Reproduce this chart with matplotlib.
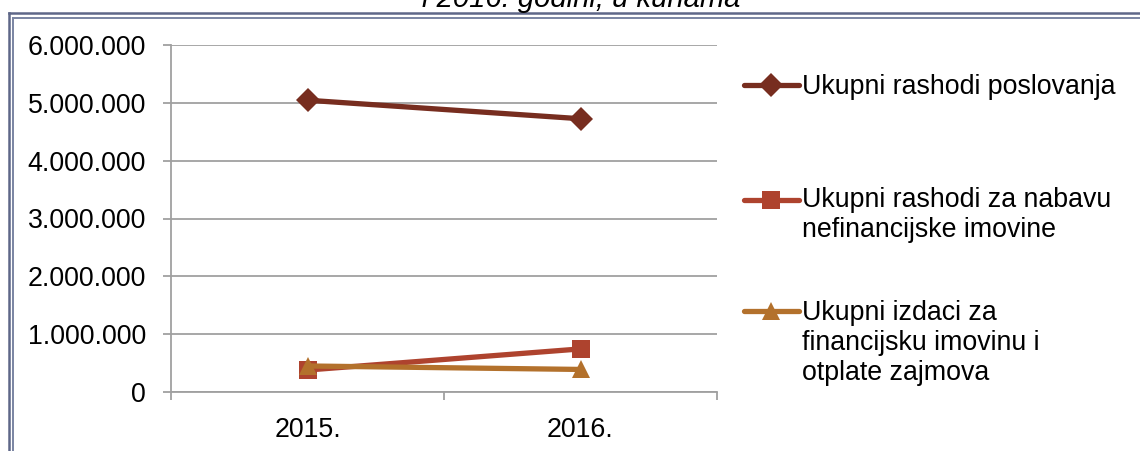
import matplotlib.pyplot as plt
from matplotlib.lines import Line2D
from matplotlib.legend_handler import HandlerLine2D
from matplotlib.ticker import FixedLocator, FuncFormatter

plt.rcParams['font.family'] = ['Liberation Sans', 'DejaVu Sans']

years = ['2015.', '2016.']
rashodi_poslovanja = [5045000, 4725000]
rashodi_nefin_imovina = [380000, 745000]
izdaci_fin_imovina = [450000, 390000]

labels = [
    'Ukupni rashodi poslovanja',
    'Ukupni rashodi za nabavu\nnefinancijske imovine',
    'Ukupni izdaci za\nfinancijsku imovinu i\notplate zajmova',
]
colors = ['#772d1f', '#ae432e', '#b3712c']
markers = ['D', 's', '^']
y_ticks = [0, 1000000, 2000000, 3000000, 4000000, 5000000, 6000000]

FS = 19.3
W, H = 1140, 451


class FirstLineHandler(HandlerLine2D):
    # keep the legend line level with the first row of a wrapped label
    def __init__(self, nlines, **kw):
        super().__init__(**kw)
        self.nlines = nlines

    def create_artists(self, legend, orig_handle, xdescent, ydescent,
                       width, height, fontsize, trans):
        arts = super().create_artists(legend, orig_handle, xdescent, ydescent,
                                      width, height, fontsize, trans)
        shift = (self.nlines - 1) / 2 * fontsize * 1.2
        for a in arts:
            a.set_ydata([y + shift for y in a.get_ydata()])
        return arts


fig = plt.figure(figsize=(W / 100, H / 100), dpi=100)
ax = fig.add_axes([171 / W, 59 / H, 546 / W, 347 / H])

xs = [0.5, 1.5]
series = [rashodi_poslovanja, rashodi_nefin_imovina, izdaci_fin_imovina]
lines = []
for vals, lab, c, m in zip(series, labels, colors, markers):
    ms = 12.5 if m == 'D' else 13
    ln, = ax.plot(xs, vals, color=c, lw=3.8, marker=m, markersize=ms,
                  markeredgewidth=0, label=lab, solid_capstyle='round')
    lines.append(ln)

ax.set_xlim(0, 2)
ax.set_ylim(0, 6000000)
ax.yaxis.set_major_locator(FixedLocator(y_ticks))
ax.yaxis.set_major_formatter(FuncFormatter(lambda v, p: f'{int(v):,}'.replace(',', '.')))
ax.grid(axis='y', color='#a0a0a0', lw=1.3)
ax.set_axisbelow(True)

ax.set_xticks([0, 1, 2])
ax.set_xticklabels([])
ax.set_xticks(xs, minor=True)
ax.set_xticklabels(years, minor=True)
ax.tick_params(axis='x', which='major', direction='out', length=6, width=1.3, color='#a0a0a0')
ax.tick_params(axis='x', which='minor', length=0, pad=18, labelsize=FS)
ax.tick_params(axis='y', direction='out', length=6, width=1.3, color='#a0a0a0',
               pad=12, labelsize=FS)

for side in ['top', 'right']:
    ax.spines[side].set_visible(False)
for side in ['left', 'bottom']:
    ax.spines[side].set_color('#a0a0a0')
    ax.spines[side].set_linewidth(1.3)

# one legend per series so each entry sits at its own height
for ln, lab, top in zip(lines, labels, [74, 187, 300]):
    fig.legend(handles=[ln], labels=[lab], loc='upper left',
               bbox_to_anchor=(744 / W, 1 - top / H),
               handler_map={ln: FirstLineHandler(lab.count('\n') + 1)},
               frameon=False, fontsize=FS, handlelength=2.05,
               handletextpad=0.1, borderpad=0, borderaxespad=0)

# double frame round the chart
fr = '#5e6788'
fig.add_artist(Line2D([8.5 / W, 1.0], [1 - 13 / H, 1 - 13 / H], color=fr, lw=1.8))
fig.add_artist(Line2D([8.5 / W, 8.5 / W], [0, 1 - 13 / H], color=fr, lw=1.8))
fig.add_artist(Line2D([12.7 / W, 1.0], [1 - 18 / H, 1 - 18 / H], color='#7a84a2', lw=1.4))
fig.add_artist(Line2D([12.7 / W, 12.7 / W], [0, 1 - 18 / H], color='#7a84a2', lw=1.4))

fig.text(581 / W, 1 - 7 / H, 'i 2016. godini, u kunama', ha='center', va='baseline',
         fontsize=21, style='italic')

fig.savefig('out.png', dpi=100)
